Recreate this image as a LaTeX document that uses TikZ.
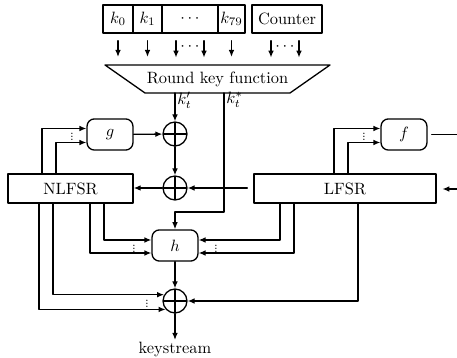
\documentclass[tikz,border=0pt]{standalone}
\usetikzlibrary{calc,arrows.meta}
\newcommand\tapvdots{\vbox{\baselineskip=1.9pt\lineskiplimit=-10pt\hbox{.}\hbox{.}\hbox{.}}}

\begin{document}
\begin{tikzpicture}[x=0.61pt,y=-0.61pt,line cap=round,line join=round,line width=0.8pt,
  >={Latex[length=4.3pt,width=3.5pt]},
  keycell/.style={draw,inner sep=0pt,minimum height=17.1pt},
  reg/.style={draw,inner sep=0pt,minimum height=17.7pt},
  boolfn/.style={draw,rounded corners=4.5pt,inner sep=0pt,minimum width=28pt,minimum height=19pt},
  xorgate/.style={circle,draw,inner sep=0pt,minimum size=14.6pt,
    path picture={\draw (path picture bounding box.north) -- (path picture bounding box.south)
      (path picture bounding box.west) -- (path picture bounding box.east);}},
  tapdots/.style={inner sep=0pt,font=\scriptsize},
  keyarrow/.style={->,shorten <=4.3pt,shorten >=4.9pt}]
  \useasboundingbox (0,0) rectangle (457,358);
  % key and counter
  \node[keycell,minimum width=18.3pt] (k0) at (118,19) {$k_0$};
  \node[keycell,minimum width=17.7pt] (k1) at (147.5,19) {$k_1$};
  \node[keycell,minimum width=34.2pt] (kdots) at (190,19) {$\cdots$};
  \node[keycell,minimum width=16.5pt] (k79) at (231.5,19) {$k_{79}$};
  \node[keycell,minimum width=42.7pt] (ctr) at (287,19) {Counter};
  % round key function
  \coordinate (rkfN) at (217.5,65); \coordinate (rkfS) at (217.5,93);
  \draw (105,65) -- (330,65) -- (290,93) -- (145,93) -- cycle;
  \node (rkf) at (217.5,79) {Round key function};
  \draw[keyarrow] (k0.south) -- (k0.south |- rkfN);
  \draw[keyarrow] (k1.south) -- (k1.south |- rkfN);
  \draw[keyarrow] ($(kdots.south)+(-14,0)$) -- ($(kdots.south)+(-14,32)$);
  \draw[keyarrow] ($(kdots.south)+(14,0)$) -- ($(kdots.south)+(14,32)$);
  \node (kdotsin) at (190,47) {$\cdots$};
  \draw[keyarrow] (k79.south) -- (k79.south |- rkfN);
  \draw[keyarrow] ($(ctr.south)+(-16,0)$) -- ($(ctr.south)+(-16,32)$);
  \draw[keyarrow] ($(ctr.south)+(12,0)$) -- ($(ctr.south)+(12,32)$);
  \node (ctrin) at (285,47) {$\cdots$};
  % registers and functions
  \node[boolfn] (g) at (110,134.5) {$g$};
  \node[boolfn] (f) at (404,134.5) {$f$};
  \node[xorgate] (xa) at (175,134) {};
  \node[xorgate] (xb) at (175,188) {};
  \node[reg,minimum width=76.3pt] (nlfsr) at (70.5,188.5) {NLFSR};
  \node[reg,minimum width=111pt] (lfsr) at (345,188.5) {LFSR};
  \node[boolfn] (h) at (175,245.5) {$h$};
  \node[xorgate] (xc) at (175,301) {};
  \node[anchor=north,inner sep=1pt] (ks) at (175,340) {keystream};
  % round keys
  \draw[->] (xa |- rkfS) -- node[pos=.25,right,inner sep=1pt] (kprime) {$k'_t$} (xa);
  \coordinate (kstar) at (224,93); \coordinate (kbend) at (224,212);
  \draw[->] (kstar) -- node[pos=.06,right,inner sep=1pt] (kstarlbl) {$k^*_t$} (kbend) -| (h);
  % feedback
  \draw[->] (g) -- (xa);
  \draw[->] (xa) -- (xb);
  \draw[->] (xb) -- (xb -| nlfsr.east);
  \draw[->,shorten <=3.7pt] (lfsr.west |- xb) -- (xb);
  \coordinate (fout) at (457,134.5); \coordinate (lfsrin) at (457,189);
  \draw[shorten <=2.5pt] (f) -- (fout);
  \draw[->,shorten >=3.5pt] (lfsrin) -- (lfsrin -| lfsr.east);
  % taps
  \draw[->] ($(nlfsr.north)+(-28.5,0)$) |- ($(g.west)+(0,-6)$);
  \draw[->] ($(nlfsr.north)+(-14.5,0)$) |- ($(g.west)+(0,8)$);
  \node[tapdots] (gdots) at (72,137) {\tapvdots};
  \draw[->] ($(lfsr.north)+(-11,0)$) |- ($(f.west)+(0,-6)$);
  \draw[->] ($(lfsr.north)+(3,0)$) |- ($(f.west)+(0,8)$);
  \node[tapdots] (fdots) at (364,137) {\tapvdots};
  \draw[->] ($(nlfsr.south)+(33.5,0)$) |- ($(h.west)+(0,-5.5)$);
  \draw[->] ($(nlfsr.south)+(19.5,0)$) |- ($(h.west)+(0,7.5)$);
  \node[tapdots] (hldots) at (134,249) {\tapvdots};
  \draw[->] ($(lfsr.south)+(-65,0)$) |- ($(h.east)+(0,-5.5)$);
  \draw[->] ($(lfsr.south)+(-51,0)$) |- ($(h.east)+(0,7.5)$);
  \node[tapdots] (hrdots) at (216,249) {\tapvdots};
  % output
  \draw[->] (h) -- (xc);
  \draw[->] ($(nlfsr.south)+(-17.5,0)$) |- (xc.150);
  \draw[->] ($(nlfsr.south)+(-31.5,0)$) |- (xc.222);
  \node[tapdots] (xdots) at (147,304) {\tapvdots};
  \draw[->] ($(lfsr.south)+(13,0)$) |- (xc.east);
  \draw[->] (xc) -- (ks);
\end{tikzpicture}
\end{document}
